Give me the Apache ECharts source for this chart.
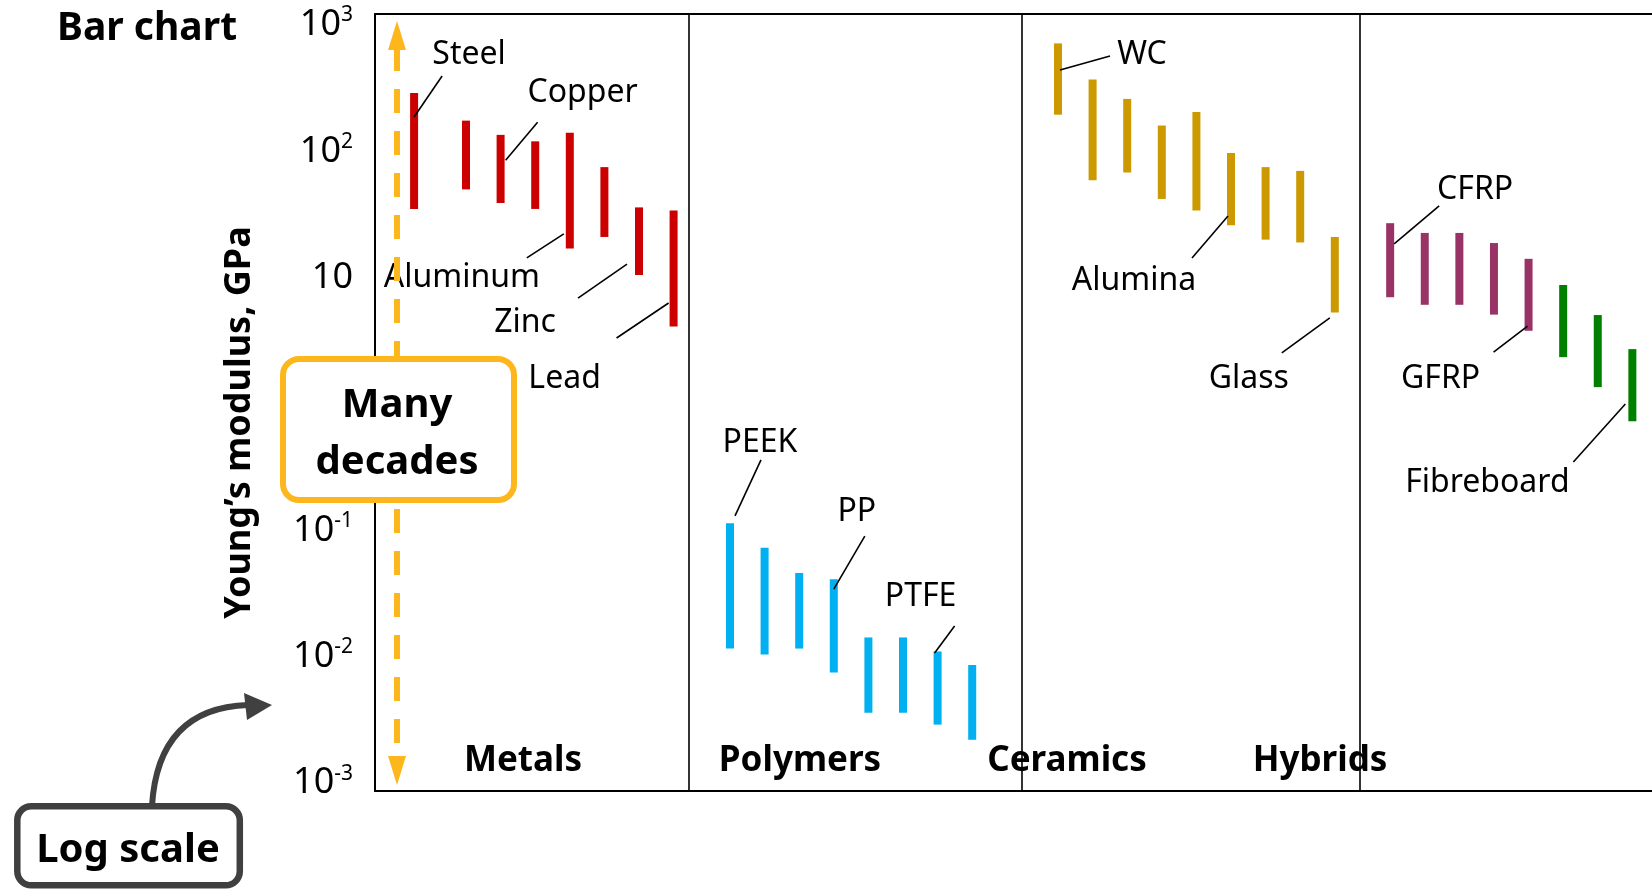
<!DOCTYPE html>
<html>
<head>
<meta charset="utf-8">
<title>Bar chart – Young's modulus</title>
<script src="https://cdn.jsdelivr.net/npm/echarts@6/dist/echarts.min.js"></script>
<style>
  html, body { margin: 0; padding: 0; background: #fff; }
  #chart { width: 1652px; height: 889px; }
</style>
</head>
<body>
<div id="chart"></div>
<script>
// ---- Data: Young's modulus ranges, [min, max] in GPa ----
const metals = [[35, 290], [50, 175], [39, 135], [35, 120], [17, 140], [21, 75], [10.5, 36], [4.1, 34]];
const polymers = [[0.0116, 0.114], [0.0104, 0.073], [0.0116, 0.046], [0.0075, 0.041],
                  [0.0036, 0.0142], [0.0036, 0.0142], [0.0029, 0.011], [0.0022, 0.0086]];
const ceramics = [[195, 715], [59, 370], [68, 260], [42, 160], [34, 205], [26, 97], [20, 75], [19, 70], [5.3, 21]];
const composites = [[7.0, 27], [6.1, 22.6], [6.1, 22.6], [5.1, 18.8], [3.8, 14.1]];
const woods = [[2.35, 8.75], [1.36, 5.06], [0.73, 2.72]];

const groupNames = ['Metals', 'Polymers', 'Ceramics', 'Hybrids'];
const yTickExponents = [-3, -2, -1, 0, 1, 2, 3];

// Named materials: which bar, and the modulus (GPa) where the leader meets it
const namedMaterials = [
  { text: 'Steel',      set: 'metals',     index: 0, at: 187 },
  { text: 'Copper',     set: 'metals',     index: 2, at: 85 },
  { text: 'Aluminum',   set: 'metals',     index: 4, at: 22.2 },
  { text: 'Zinc',       set: 'metals',     index: 6, at: 12.8 },
  { text: 'Lead',       set: 'metals',     index: 7, at: 6.3 },
  { text: 'PEEK',       set: 'polymers',   index: 0, at: 0.13 },
  { text: 'PP',         set: 'polymers',   index: 3, at: 0.0343 },
  { text: 'PTFE',       set: 'polymers',   index: 6, at: 0.0107 },
  { text: 'WC',         set: 'ceramics',   index: 0, at: 441 },
  { text: 'Alumina',    set: 'ceramics',   index: 5, at: 30.8 },
  { text: 'Glass',      set: 'ceramics',   index: 8, at: 4.8 },
  { text: 'CFRP',       set: 'composites', index: 0, at: 18.5 },
  { text: 'GFRP',       set: 'composites', index: 4, at: 4.14 },
  { text: 'Fibreboard', set: 'woods',      index: 2, at: 1.0 }
];

// ---- Layout (pixels / slot units) ----
const FONT = '"Noto Sans", "Open Sans", sans-serif';
const GRID = { left: 375, top: 14, height: 777, width: 1277 };
const SLOT_PX = 34.6;                       // width of one bar slot
const SLOT_COUNT = GRID.width / SLOT_PX;
const BAR_WIDTH = 8;
const LOG_MIN = -3.063, LOG_MAX = 3.087;
const LABEL_NUDGE = 3;                      // optical baseline correction for name labels

// first slot of each bar set, and the extra gap after the first bar
const SET_LAYOUT = {
  metals:     { start: 1.13,  firstGap: 1.5, color: '#CC0000' },
  polymers:   { start: 10.26, firstGap: 1,   color: '#00B0F0' },
  ceramics:   { start: 19.74, firstGap: 1,   color: '#CC9900' },
  composites: { start: 29.34, firstGap: 1,   color: '#993366' },
  woods:      { start: 34.34, firstGap: 1,   color: '#008000' }
};
const SETS = { metals, polymers, ceramics, composites, woods };
const DIVIDER_SLOTS = [9.07, 18.69, 28.46];

// leader line: [startDx, endDx, endDy]; label centre: [dx, dy] (px from the anchor)
const LEADERS = {
  Steel:      { line: [0, 28, -41],  label: [55, -65] },
  Copper:     { line: [5, 37, -38],  label: [82, -70] },
  Aluminum:   { line: [-6, -43, 24], label: [-108, 41] },
  Zinc:       { line: [-12, -61, 34], label: [-114, 56] },
  Lead:       { line: [-5, -57, 35], label: [-109, 73] },
  PEEK:       { line: [5, 31, -56],  label: [30, -76] },
  PP:         { line: [0, 31, -53],  label: [23, -80] },
  PTFE:       { line: [-3, 17, -27], label: [-17, -59] },
  WC:         { line: [2, 52, -14],  label: [84, -18] },
  Alumina:    { line: [-3, -39, 42], label: [-97, 62] },
  Glass:      { line: [-5, -53, 35], label: [-86, 58] },
  CFRP:       { line: [4, 49, -38],  label: [85, -57] },
  GFRP:       { line: [-1, -35, 26], label: [-88, 50] },
  Fibreboard: { line: [-7, -59, 58], label: [-145, 76] }
};

function slotOf(setName, i) {
  const s = SET_LAYOUT[setName];
  return i === 0 ? s.start : s.start + s.firstGap + (i - 1);
}

// ---- Series ----
function barSeries(setName) {
  return {
    type: 'custom',
    name: setName,
    coordinateSystem: 'cartesian2d',
    encode: { x: 0, y: [1, 2] },
    data: SETS[setName].map((r, i) => [slotOf(setName, i), Math.log10(r[0]), Math.log10(r[1])]),
    renderItem: (params, api) => {
      const top = api.coord([api.value(0), api.value(2)]);
      const bot = api.coord([api.value(0), api.value(1)]);
      return {
        type: 'rect',
        shape: { x: top[0] - BAR_WIDTH / 2, y: top[1], width: BAR_WIDTH, height: bot[1] - top[1] },
        style: { fill: SET_LAYOUT[setName].color }
      };
    },
    silent: true,
    z: 3
  };
}

const labelSeries = {
  type: 'custom',
  coordinateSystem: 'cartesian2d',
  encode: { x: 0, y: 1 },
  data: namedMaterials.map(m => [slotOf(m.set, m.index), Math.log10(m.at)]),
  renderItem: (params, api) => {
    const m = namedMaterials[params.dataIndex];
    const g = LEADERS[m.text];
    const p = api.coord([api.value(0), api.value(1)]);
    return {
      type: 'group',
      children: [
        { type: 'line',
          shape: { x1: p[0] + g.line[0], y1: p[1], x2: p[0] + g.line[1], y2: p[1] + g.line[2] },
          style: { stroke: '#000', lineWidth: 1.6 } },
        { type: 'text', x: p[0] + g.label[0], y: p[1] + g.label[1] + LABEL_NUDGE,
          style: { text: m.text, fill: '#000', fontSize: 32, fontFamily: FONT,
                   align: 'center', verticalAlign: 'middle' } }
      ]
    };
  },
  silent: true,
  z: 4
};

const dividerSeries = {
  type: 'line',
  data: [],
  silent: true,
  markLine: {
    symbol: 'none',
    silent: true,
    label: { show: false },
    lineStyle: { color: '#000', width: 1.6, type: 'solid' },
    data: DIVIDER_SLOTS.map(x => ({ xAxis: x }))
  }
};

// ---- Annotations drawn on top ----
const AMBER = '#FDB71C';
const GREY = '#404040';
const arrowX = 397;
const graphics = [
  // dashed double-headed arrow
  { type: 'line', shape: { x1: arrowX, y1: 47, x2: arrowX, y2: 758 },
    style: { stroke: AMBER, lineWidth: 6, lineDash: [24, 18] }, z: 50 },
  { type: 'polygon', shape: { points: [[arrowX - 9, 50], [arrowX + 9, 50], [arrowX, 21]] },
    style: { fill: AMBER }, z: 50 },
  { type: 'polygon', shape: { points: [[arrowX - 9, 756], [arrowX + 9, 756], [arrowX, 785]] },
    style: { fill: AMBER }, z: 50 },
  // "Many decades" call-out
  { type: 'rect', shape: { x: 283, y: 359, width: 231, height: 141, r: 16 },
    style: { fill: '#fff', stroke: AMBER, lineWidth: 6 }, z: 60 },
  { type: 'text', x: 397, y: 406, z: 61,
    style: { text: 'Many', fontSize: 40, fontWeight: 'bold', fontFamily: FONT, fill: '#000',
             align: 'center', verticalAlign: 'middle' } },
  { type: 'text', x: 397, y: 463, z: 61,
    style: { text: 'decades', fontSize: 40, fontWeight: 'bold', fontFamily: FONT, fill: '#000',
             align: 'center', verticalAlign: 'middle' } },
  // "Log scale" call-out with curved arrow
  { type: 'bezierCurve', shape: { x1: 152, y1: 806, cpx1: 158, cpy1: 708, x2: 248, y2: 705 },
    style: { stroke: GREY, lineWidth: 6, fill: null }, z: 60 },
  { type: 'polygon', shape: { points: [[244, 693], [272, 705], [247, 720]] },
    style: { fill: GREY }, z: 60 },
  { type: 'rect', shape: { x: 17.3, y: 806.3, width: 222.5, height: 79, r: 14 },
    style: { fill: '#fff', stroke: GREY, lineWidth: 6.5 }, z: 60 },
  { type: 'text', x: 128, y: 851, z: 61,
    style: { text: 'Log scale', fontSize: 40, fontWeight: 'bold', fontFamily: FONT, fill: '#000',
             align: 'center', verticalAlign: 'middle' } }
];

// material family names along the bottom of the plot
const GROUP_LABEL_X = [523, 800, 1067, 1320];
groupNames.forEach((name, i) => {
  graphics.push({
    type: 'text', x: GROUP_LABEL_X[i], y: 761, z: 40,
    style: { text: name, fontSize: 35, fontWeight: 'bold', fontFamily: FONT, fill: '#000',
             align: 'center', verticalAlign: 'middle' }
  });
});

// frame: left, top and bottom edges only
const frameLine = { show: true, onZero: false, lineStyle: { color: '#000', width: 2 } };
const bareX = {
  type: 'value', min: 0, max: SLOT_COUNT,
  axisLine: frameLine, axisTick: { show: false }, axisLabel: { show: false }, splitLine: { show: false }
};

const chart = echarts.init(document.getElementById('chart'), null, { renderer: 'canvas' });
chart.setOption({
  animation: false,
  backgroundColor: '#fff',
  title: {
    text: 'Bar chart',
    left: 57, top: 7, padding: 0,
    textStyle: { fontSize: 39, fontWeight: 'bold', fontFamily: FONT, color: '#000', lineHeight: 44 }
  },
  grid: {
    left: GRID.left, top: GRID.top, height: GRID.height, width: GRID.width,
    show: false
  },
  xAxis: [
    Object.assign({ position: 'bottom' }, bareX),
    Object.assign({ position: 'top' }, bareX)
  ],
  yAxis: {
    type: 'value', min: LOG_MIN, max: LOG_MAX,
    name: 'Young\u2019s modulus, GPa',
    nameLocation: 'middle', nameRotate: 90, nameGap: 117,
    nameTextStyle: { fontSize: 36, fontWeight: 'bold', fontFamily: FONT, color: '#000',
                     padding: [0, 40, 0, 0] },
    axisLine: frameLine,
    axisTick: { show: false },
    splitLine: { show: false },
    axisLabel: {
      customValues: yTickExponents,
      margin: 22,
      color: '#000',
      formatter: v => v === 0 ? '{b|1}' : v === 1 ? '{b|10}' : '{b|10}{s|' + v + '}',
      rich: {
        b: { fontSize: 36, fontFamily: FONT, color: '#000', lineHeight: 40 },
        s: { fontSize: 21, fontFamily: FONT, color: '#000', lineHeight: 33, verticalAlign: 'top' }
      }
    }
  },
  series: [
    dividerSeries,
    barSeries('metals'),
    barSeries('polymers'),
    barSeries('ceramics'),
    barSeries('composites'),
    barSeries('woods'),
    labelSeries
  ],
  graphic: graphics
});
</script>
</body>
</html>
